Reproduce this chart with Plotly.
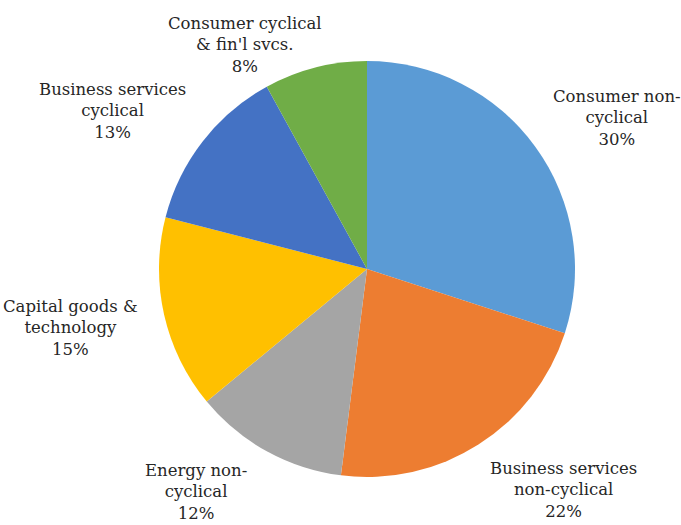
import plotly.graph_objects as go

W, H = 681, 525

labels = ["Consumer non-cyclical", "Business services non-cyclical", "Energy non-cyclical",
          "Capital goods & technology", "Business services cyclical", "Consumer cyclical & fin'l svcs."]
label_text = ["Consumer non-<br>cyclical", "Business services<br>non-cyclical", "Energy non-<br>cyclical",
              "Capital goods &<br>technology", "Business services<br>cyclical", "Consumer cyclical<br>& fin'l svcs."]
values = [30, 22, 12, 15, 13, 8]
colors = ["#5B9BD5", "#ED7D31", "#A5A5A5", "#FFC000", "#4472C4", "#70AD47"]

# label placement (pixel positions of label centres, layout styling)
label_pos = [(617, 118), (563, 490), (196, 492), (70, 328), (112, 111), (245, 45)]

cx, cy, r = 367, 269, 208

fig = go.Figure(go.Pie(
    labels=labels, values=values, sort=False, direction="clockwise", rotation=0,
    marker=dict(colors=colors, line=dict(width=0)),
    textinfo="none", hoverinfo="label+percent", showlegend=False,
    domain=dict(x=[(cx - r) / W, (cx + r) / W], y=[(H - cy - r) / H, (H - cy + r) / H]),
))

total = sum(values)
for txt, v, (px, py) in zip(label_text, values, label_pos):
    fig.add_annotation(
        x=px / W, y=1 - py / H, xref="paper", yref="paper",
        text=f"{txt}<br>{round(100 * v / total)}%", showarrow=False,
        xanchor="center", yanchor="middle", align="center",
        font=dict(family="DejaVu Serif", size=16.5, color="#262626"),
    )

fig.update_layout(
    width=W, height=H, margin=dict(l=0, r=0, t=0, b=0),
    paper_bgcolor="white", plot_bgcolor="white",
)
fig.write_html("out.html")
